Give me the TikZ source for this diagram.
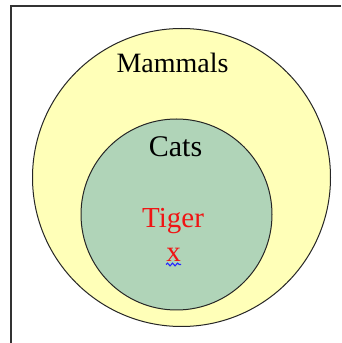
\documentclass[tikz,border=0pt]{standalone}
\usepackage{fontspec}
\setmainfont{Liberation Serif}
\usetikzlibrary{decorations.pathmorphing}
\definecolor{mamfill}{RGB}{255,255,184}
\definecolor{catfill}{RGB}{176,212,184}
\definecolor{tigred}{RGB}{240,20,20}
\begin{document}
\begin{tikzpicture}[x=1pt,y=1pt,
  setcircle/.style={circle,draw=black!85,line width=1pt,inner sep=0pt},
  lbl/.style={anchor=base,inner sep=0pt}]
\useasboundingbox (0,0) rectangle (341,343);
\fill[white] (0,0) rectangle (341,343);
\coordinate (fbl) at (10.8,0);
\coordinate (ftl) at (10.8,336.8);
\coordinate (ftr) at (341,336.8);
\draw[black!80,line width=1.4pt] (fbl) -- (ftl) -- (ftr);
\node[setcircle,fill=mamfill,minimum size=298] (mam) at (181.5,165.5) {};
\node[setcircle,fill=catfill,minimum size=191] (cat) at (176.5,128.5) {};
\node[lbl,font=\fontsize{28}{32}\selectfont] (tmam) at (172.5,270.5) {Mammals};
\node[lbl,font=\fontsize{30}{34}\selectfont] (tcat) at (175.5,186.5) {Cats};
\node[lbl,text=tigred,font=\fontsize{29}{33}\selectfont] (ttig) at (173,115) {Tiger};
\node[lbl,text=tigred,font=\fontsize{29}{33}\selectfont] (tx) at (173.5,81.5) {x};
\coordinate (sq1) at (166,78.5);
\coordinate (sq2) at (181,78.5);
\draw[blue!85,line width=1.1pt,decorate,decoration={snake,amplitude=1.4pt,segment length=5pt}] (sq1) -- (sq2);
\end{tikzpicture}
\end{document}
